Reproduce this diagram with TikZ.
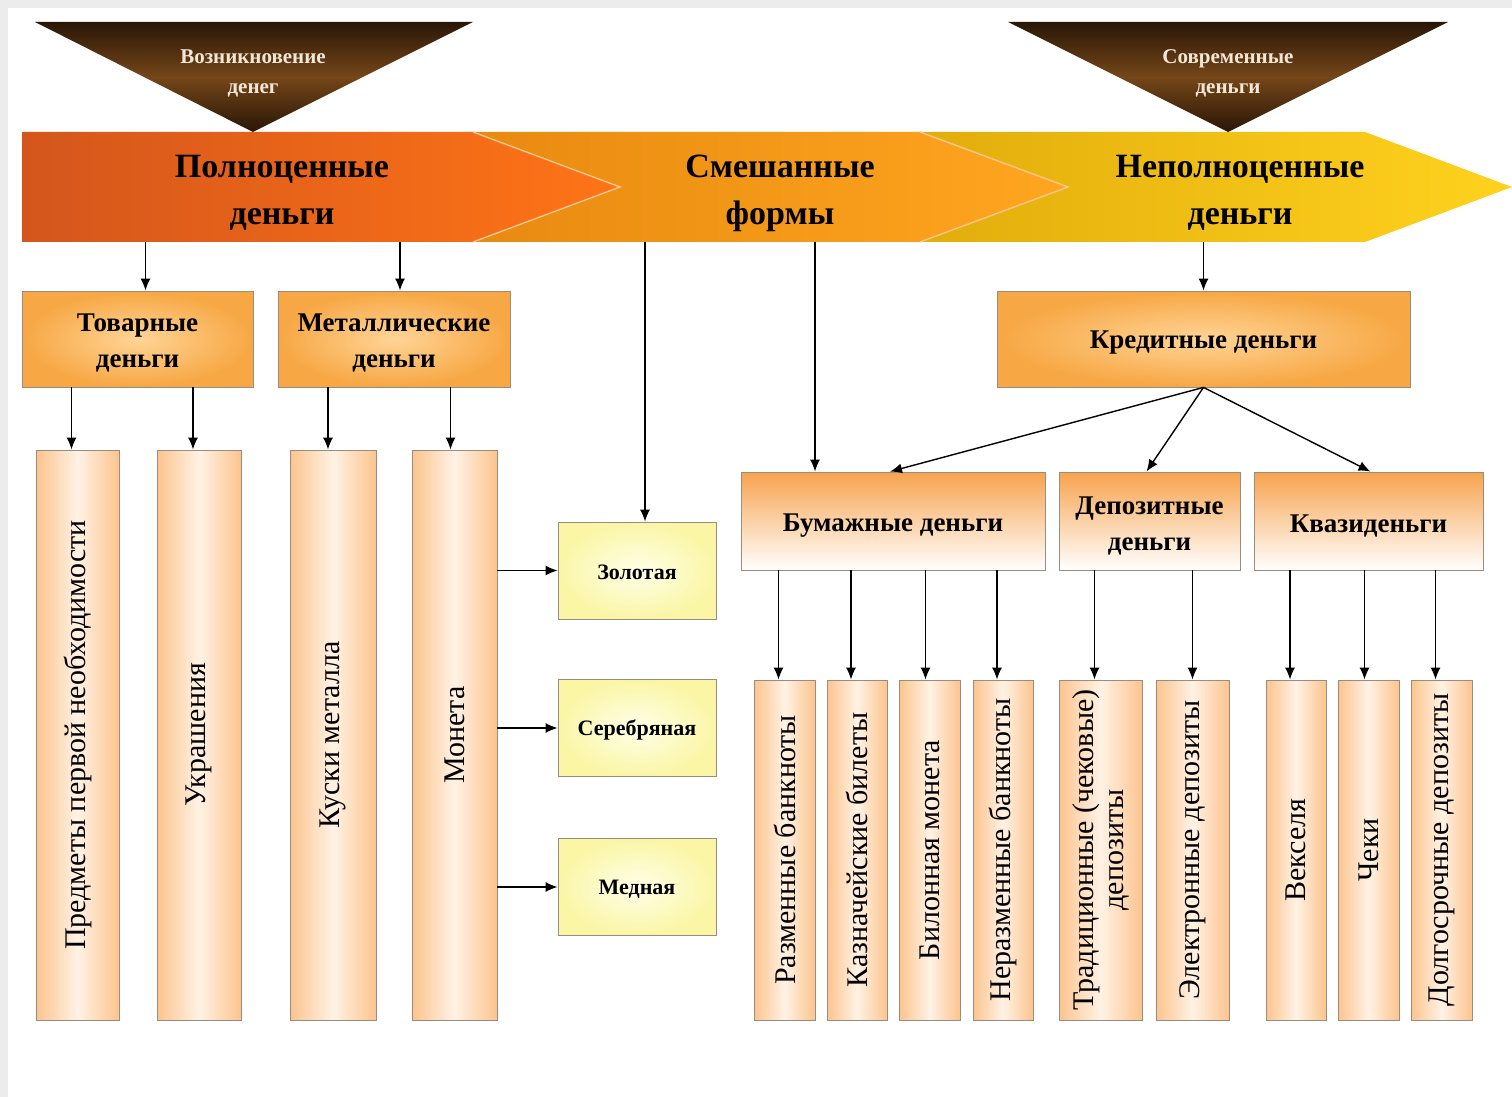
\documentclass[tikz,border=0pt]{standalone}
\usepackage{fontspec}
\setmainfont{Liberation Serif}
\usetikzlibrary{arrows.meta,calc}
\definecolor{bggray}{HTML}{ECECEC}
\definecolor{tridark}{HTML}{2A1606}
\definecolor{trimid}{HTML}{744619}
\definecolor{triwhite}{HTML}{F3E6D6}
\definecolor{segAl}{HTML}{D4561C}
\definecolor{segAr}{HTML}{FF7416}
\definecolor{segBl}{HTML}{E88A10}
\definecolor{segBr}{HTML}{FFA620}
\definecolor{segCl}{HTML}{E2AD0C}
\definecolor{segCr}{HTML}{FFD21E}
\definecolor{obinner}{HTML}{FFD497}
\definecolor{obouter}{HTML}{F7A743}
\definecolor{peach}{HTML}{FCC48E}
\definecolor{peachmid}{HTML}{FFF2E4}
\definecolor{gtop}{HTML}{F7A34E}
\definecolor{yinner}{HTML}{FFFFE8}
\definecolor{youter}{HTML}{FAF6A6}
\definecolor{boxline}{HTML}{9A8C80}
\begin{document}
\begin{tikzpicture}[x=0.5pt,y=-0.5pt,
  arr/.style={-{Latex[length=6pt,width=5pt]},line width=0.7pt},
  tritext/.style={text=triwhite,font=\bfseries\fontsize{10.5}{15}\selectfont,align=center},
  bandtext/.style={font=\bfseries\fontsize{17}{23.5}\selectfont,align=center},
  obox/.style={draw=boxline,shading=radial,inner color=obinner,outer color=obouter,minimum height=48pt},
  ybox/.style={draw=boxline,shading=radial,inner color=yinner,outer color=youter,minimum width=79pt,minimum height=48.5pt},
  gbox/.style={draw=boxline,top color=gtop,bottom color=white,minimum height=49pt},
  btext/.style={align=center,inner sep=0pt,font=\bfseries\fontsize{13.5}{18}\selectfont},
  ytext/.style={inner sep=0pt,font=\bfseries\fontsize{11}{13}\selectfont},
  vbox/.style={draw=boxline,left color=peach,right color=peach,middle color=peachmid},
  vtext/.style={rotate=90,align=center,font=\fontsize{15}{15}\selectfont},
]
\useasboundingbox (0,0) rectangle (1512,1097);
\fill[bggray] (0,0) rectangle (1512,1097);
\fill[white] (8,8) rectangle (1512,1097);

%полоса
\shade[left color=segCl,right color=segCr] (920,132) -- (1365,132) -- (1512,187) -- (1365,242) -- (920,242) -- (1068,187) -- cycle;
\shade[left color=segBl,right color=segBr] (473,132) -- (920,132) -- (1068,187) -- (920,242) -- (473,242) -- (620,187) -- cycle;
\shade[left color=segAl,right color=segAr] (22,132) -- (473,132) -- (620,187) -- (473,242) -- (22,242) -- cycle;
\draw[white!55!orange,line width=0.7pt] (473,132) -- (620,187) -- (473,242);
\draw[white!55!orange,line width=0.7pt] (920,132) -- (1068,187) -- (920,242);
\node[bandtext] (full) at (282,193) {Полноценные\\деньги};
\node[bandtext] (mixed) at (780,193) {Смешанные\\формы};
\node[bandtext] (notfull) at (1240,193) {Неполноценные\\деньги};
\coordinate (bandbot) at (0,242);

%треугольники
\shade[top color=tridark,bottom color=tridark,middle color=trimid] (35,22) -- (473,22) -- (253,132) -- cycle;
\shade[top color=tridark,bottom color=tridark,middle color=trimid] (1008,22) -- (1448,22) -- (1228,132) -- cycle;
\node[tritext] (origin) at (253,73) {Возникновение\\денег};
\node[tritext] (modern) at (1228,73) {Современные\\деньги};

%второй ряд
\node[obox,minimum width=115.5pt] (tov) at (137.5,339) {};
\node[obox,minimum width=116pt] (met) at (394,339) {};
\node[obox,minimum width=206.5pt] (kred) at (1203.5,339) {};
\node[btext] at ([yshift=-2pt]tov) {Товарные\\деньги};
\node[btext] at ([yshift=-2pt]met) {Металлические\\деньги};
\node[btext] at ([yshift=-2pt]kred) {Кредитные деньги};
\draw[arr] ([xshift=4pt]tov.north |- bandbot) -- ([xshift=4pt]tov.north);
\draw[arr] ([xshift=3pt]met.north |- bandbot) -- ([xshift=3pt]met.north);
\draw[arr] (kred.north |- bandbot) -- (kred.north);

%товарные и металлические
\node[vbox,minimum width=41.5pt,minimum height=285pt] (pred) at (77.5,735) {};
\node[vbox,minimum width=42pt,minimum height=285pt] (ukr) at (199,735) {};
\node[vbox,minimum width=43pt,minimum height=285pt] (kus) at (333,735) {};
\node[vbox,minimum width=42.5pt,minimum height=285pt] (mon) at (454.5,735) {};
\node[vtext] at (pred) {Предметы первой необходимости};
\node[vtext] at (ukr) {Украшения};
\node[vtext] at (kus) {Куски металла};
\node[vtext] at (mon) {Монета};
\draw[arr] ([xshift=-3pt]pred.north |- tov.south) -- ([xshift=-3pt]pred.north);
\draw[arr] ([xshift=-3pt]ukr.north |- tov.south) -- ([xshift=-3pt]ukr.north);
\draw[arr] ([xshift=-2.5pt]kus.north |- met.south) -- ([xshift=-2.5pt]kus.north);
\draw[arr] ([xshift=-2pt]mon.north |- met.south) -- ([xshift=-2pt]mon.north);

%монета
\node[ybox] (gold) at (637,570.5) {};
\node[ybox] (silver) at (637,728) {};
\node[ybox] (copper) at (637,887) {};
\node[ytext] at ([yshift=-1pt]gold) {Золотая};
\node[ytext] at ([yshift=-1pt]silver) {Серебряная};
\node[ytext] at ([yshift=-1pt]copper) {Медная};
\draw[arr] (gold.west -| mon.east) -- (gold.west);
\draw[arr] (silver.west -| mon.east) -- (silver.west);
\draw[arr] (copper.west -| mon.east) -- (copper.west);
\draw[arr] ([xshift=4pt]gold.north |- bandbot) -- ([xshift=4pt]gold.north);

%третий ряд
\node[gbox,minimum width=152pt] (bum) at (893,521) {};
\node[gbox,minimum width=90.5pt] (dep) at (1149.5,521) {};
\node[gbox,minimum width=114.5pt] (kvazi) at (1368.5,521) {};
\node[btext] at ([yshift=-2.5pt]bum) {Бумажные деньги};
\node[btext] at ([yshift=-2.5pt]dep) {Депозитные\\деньги};
\node[btext] at ([yshift=-2.5pt]kvazi) {Квазиденьги};
\draw[arr] ([xshift=-39pt]bum.north |- bandbot) -- ([xshift=-39pt]bum.north);
\draw[arr] (kred.south) -- ([xshift=-1.5pt]bum.north);
\draw[arr] (kred.south) -- ([xshift=-1.5pt]dep.north);
\draw[arr] (kred.south) -- ([xshift=1pt]kvazi.north);

%нижний ряд
\node[vbox,minimum width=30.5pt,minimum height=170pt] (razm) at (784.5,850) {};
\node[vbox,minimum width=30pt,minimum height=170pt] (kazn) at (857,850) {};
\node[vbox,minimum width=30.5pt,minimum height=170pt] (bil) at (929.5,850) {};
\node[vbox,minimum width=30pt,minimum height=170pt] (neraz) at (1003,850) {};
\node[vbox,minimum width=41.5pt,minimum height=170pt] (trad) at (1100.5,850) {};
\node[vbox,minimum width=36.5pt,minimum height=170pt] (elek) at (1192.5,850) {};
\node[vbox,minimum width=30pt,minimum height=170pt] (veks) at (1296,850) {};
\node[vbox,minimum width=30.5pt,minimum height=170pt] (cheki) at (1368.5,850) {};
\node[vbox,minimum width=30.5pt,minimum height=170pt] (dolg) at (1441.5,850) {};
\node[vtext] at (razm) {Разменные банкноты};
\node[vtext] at (kazn) {Казначейские билеты};
\node[vtext] at (bil) {Билонная монета};
\node[vtext] at (neraz) {Неразменные банкноты};
\node[vtext] at (trad) {Традиционные (чековые)\\депозиты};
\node[vtext] at (elek) {Электронные депозиты};
\node[vtext] at (veks) {Векселя};
\node[vtext] at (cheki) {Чеки};
\node[vtext] at (dolg) {Долгосрочные депозиты};
\draw[arr] ([xshift=-3pt]razm.north |- bum.south) -- ([xshift=-3pt]razm.north);
\draw[arr] ([xshift=-3pt]kazn.north |- bum.south) -- ([xshift=-3pt]kazn.north);
\draw[arr] ([xshift=-2pt]bil.north |- bum.south) -- ([xshift=-2pt]bil.north);
\draw[arr] ([xshift=-3pt]neraz.north |- bum.south) -- ([xshift=-3pt]neraz.north);
\draw[arr] ([xshift=-3pt]trad.north |- dep.south) -- ([xshift=-3pt]trad.north);
\draw[arr] (elek.north |- dep.south) -- (elek.north);
\draw[arr] ([xshift=-3pt]veks.north |- kvazi.south) -- ([xshift=-3pt]veks.north);
\draw[arr] ([xshift=-2pt]cheki.north |- kvazi.south) -- ([xshift=-2pt]cheki.north);
\draw[arr] ([xshift=-3pt]dolg.north |- kvazi.south) -- ([xshift=-3pt]dolg.north);
\end{tikzpicture}
\end{document}
